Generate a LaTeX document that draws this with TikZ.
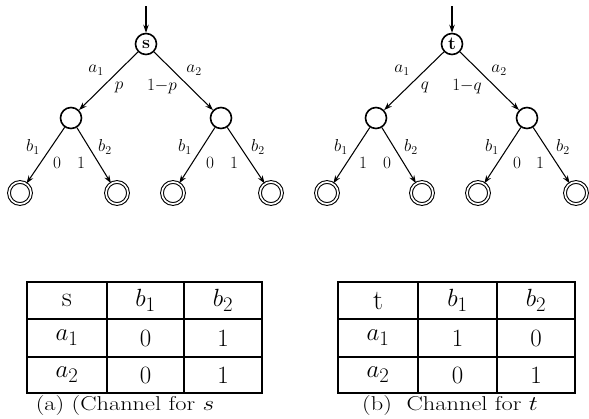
\documentclass[tikz,border=0pt]{standalone}
\usetikzlibrary{arrows.meta}
\begin{document}
\begin{tikzpicture}[x=1pt,y=-1pt,
  state/.style={circle,draw,line width=1.6pt,minimum size=21pt,inner sep=0pt,font=\fontsize{18}{20}\selectfont\bfseries},
  leaf/.style={circle,draw,double,double distance=1.7pt,line width=1.05pt,minimum size=22pt,inner sep=0pt},
  arr/.style={-{Stealth[length=8pt,width=5.5pt]},line width=1.05pt},
  lab/.style={font=\fontsize{16.5}{19}\selectfont,inner sep=0pt},
  cell/.style={font=\fontsize{28}{32}\selectfont,inner sep=0pt},
  tline/.style={line width=1.5pt},
  captext/.style={font=\fontsize{20}{24}\selectfont,inner sep=0pt}]
\useasboundingbox (0,0) rectangle (589,418);
% ---------- tree s ----------
\coordinate (sin) at (146,6);
\node[state] (s) at (146,44) {s};
\node[state] (sl) at (71,118) {};
\node[state] (sr) at (221,118) {};
\node[leaf] (sll) at (20,193) {};
\node[leaf] (slr) at (117,193) {};
\node[leaf] (srl) at (173,193) {};
\node[leaf] (srr) at (271,193) {};
\draw[arr] (sin) -- (s);
\draw[arr] (s) -- (sl);
\draw[arr] (s) -- (sr);
\draw[arr] (sl) -- (sll);
\draw[arr] (sl) -- (slr);
\draw[arr] (sr) -- (srl);
\draw[arr] (sr) -- (srr);
\node[lab] (sa1) at (96,70) {$a_1$};
\node[lab] (sp) at (119,87) {$p$};
\node[lab] (sa2) at (194,70) {$a_2$};
\node[lab] (s1p) at (162,87) {$1{-}p$};
\node[lab] (slb1) at (33,147) {$b_1$};
\node[lab] (sl0) at (57,163) {$0$};
\node[lab] (sl1) at (81,163) {$1$};
\node[lab] (slb2) at (105,147) {$b_2$};
\node[lab] (srb1) at (185,147) {$b_1$};
\node[lab] (sr0) at (210,163) {$0$};
\node[lab] (sr1) at (234,163) {$1$};
\node[lab] (srb2) at (258,147) {$b_2$};
% ---------- tree t ----------
\coordinate (tin) at (452,6);
\node[state] (t) at (452,44) {t};
\node[state] (tl) at (376,118) {};
\node[state] (tr) at (527,118) {};
\node[leaf] (tll) at (327,193) {};
\node[leaf] (tlr) at (422,193) {};
\node[leaf] (trl) at (478,193) {};
\node[leaf] (trr) at (576,193) {};
\draw[arr] (tin) -- (t);
\draw[arr] (t) -- (tl);
\draw[arr] (t) -- (tr);
\draw[arr] (tl) -- (tll);
\draw[arr] (tl) -- (tlr);
\draw[arr] (tr) -- (trl);
\draw[arr] (tr) -- (trr);
\node[lab] (ta1) at (402,70) {$a_1$};
\node[lab] (tq) at (425,87) {$q$};
\node[lab] (ta2) at (499,70) {$a_2$};
\node[lab] (t1q) at (467,87) {$1{-}q$};
\node[lab] (tlb1) at (341,147) {$b_1$};
\node[lab] (tl1) at (363,163) {$1$};
\node[lab] (tl0) at (387,163) {$0$};
\node[lab] (tlb2) at (411,147) {$b_2$};
\node[lab] (trb1) at (492,147) {$b_1$};
\node[lab] (tr0) at (517,163) {$0$};
\node[lab] (tr1) at (540,163) {$1$};
\node[lab] (trb2) at (563,147) {$b_2$};
% ---------- table s ----------
\draw[tline] (27,282) rectangle (262,393);
\draw[tline] (27,319) -- (262,319);
\draw[tline] (27,357) -- (262,357);
\draw[tline] (107,282) -- (107,393);
\draw[tline] (184,282) -- (184,393);
\node[cell] (c11) at (67,300.5) {s};
\node[cell] (c12) at (145.5,300.5) {$b_1$};
\node[cell] (c13) at (223,300.5) {$b_2$};
\node[cell] (c21) at (67,338) {$a_1$};
\node[cell] (c22) at (145.5,338) {$0$};
\node[cell] (c23) at (223,338) {$1$};
\node[cell] (c31) at (67,375) {$a_2$};
\node[cell] (c32) at (145.5,375) {$0$};
\node[cell] (c33) at (223,375) {$1$};
\node[captext] (capa) at (125,406) {\scalebox{1.22}[1]{(a) (Channel for $s$}};
% ---------- table t ----------
\draw[tline] (338,282) rectangle (575,393);
\draw[tline] (338,319) -- (575,319);
\draw[tline] (338,357) -- (575,357);
\draw[tline] (418,282) -- (418,393);
\draw[tline] (497,282) -- (497,393);
\node[cell] (d11) at (378,300.5) {t};
\node[cell] (d12) at (457.5,300.5) {$b_1$};
\node[cell] (d13) at (536,300.5) {$b_2$};
\node[cell] (d21) at (378,338) {$a_1$};
\node[cell] (d22) at (457.5,338) {$1$};
\node[cell] (d23) at (536,338) {$0$};
\node[cell] (d31) at (378,375) {$a_2$};
\node[cell] (d32) at (457.5,375) {$0$};
\node[cell] (d33) at (536,375) {$1$};
\node[captext] (capb) at (450,406) {\scalebox{1.22}[1]{(b)\ \ Channel for $t$}};
\end{tikzpicture}
\end{document}
